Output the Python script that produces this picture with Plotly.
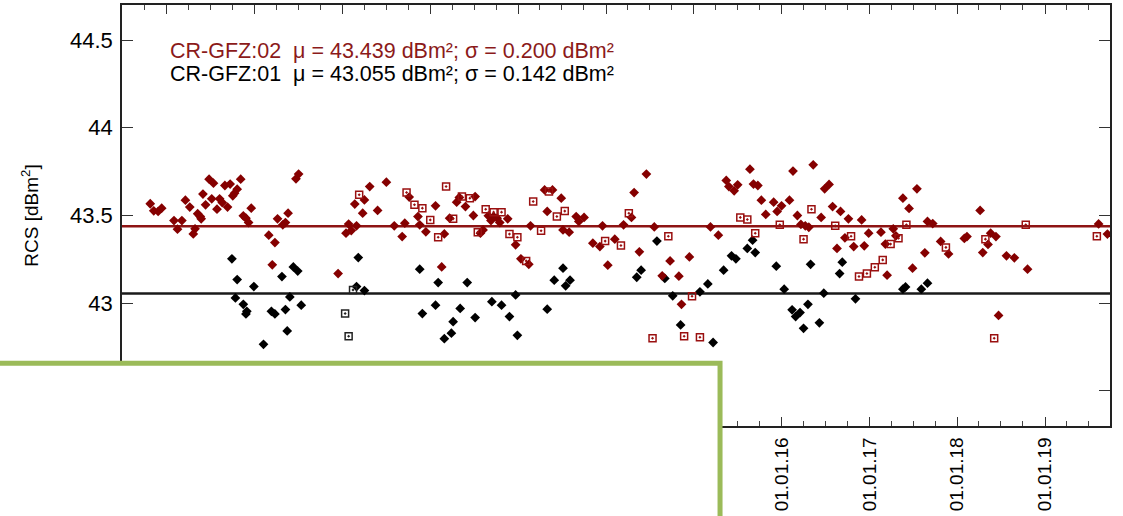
import pandas as pd
import plotly.graph_objects as go

# ---------------- data (decimal year, RCS in dBm^2) ----------------
gfz02_diamond_year = [
    2008.81, 2008.85, 2008.90, 2008.94, 2009.08, 2009.12, 2009.17, 2009.21, 2009.26, 2009.30,
    2009.32, 2009.35, 2009.38, 2009.39, 2009.41, 2009.44, 2009.48, 2009.51, 2009.53, 2009.57,
    2009.60, 2009.63, 2009.66, 2009.69, 2009.72, 2009.75, 2009.77, 2009.80, 2009.84, 2009.87,
    2009.90, 2009.93, 2009.96, 2010.16, 2010.20, 2010.23, 2010.26, 2010.32, 2010.35, 2010.38,
    2010.47, 2010.50, 2010.95, 2011.04, 2011.07, 2011.10, 2011.14, 2011.16, 2011.23, 2011.25,
    2011.31, 2011.40, 2011.50, 2011.59, 2011.68, 2011.71, 2011.76, 2011.86, 2011.88, 2011.95,
    2012.06, 2012.13, 2012.16, 2012.22, 2012.30, 2012.33, 2012.40, 2012.49, 2012.51, 2012.57,
    2012.60, 2012.66, 2012.69, 2012.72, 2012.76, 2012.79, 2012.88, 2012.97, 2013.03, 2013.12,
    2013.14, 2013.30, 2013.33, 2013.39, 2013.49, 2013.51, 2013.58, 2013.66, 2013.69, 2013.75,
    2013.85, 2013.93, 2013.96, 2014.02, 2014.10, 2014.20, 2014.29, 2014.32, 2014.38, 2014.46,
    2014.55, 2014.64, 2014.73, 2014.83, 2014.86, 2014.95, 2015.19, 2015.28, 2015.37, 2015.40,
    2015.46, 2015.50, 2015.64, 2015.68, 2015.73, 2015.77, 2015.82, 2015.91, 2015.95, 2016.00,
    2016.09, 2016.13, 2016.18, 2016.22, 2016.27, 2016.31, 2016.36, 2016.45, 2016.49, 2016.54,
    2016.58, 2016.63, 2016.67, 2016.72, 2016.76, 2016.82, 2016.91, 2016.94, 2016.99, 2017.13,
    2017.18, 2017.20, 2017.27, 2017.30, 2017.38, 2017.45, 2017.49, 2017.54, 2017.63, 2017.66,
    2017.72, 2017.81, 2017.90, 2018.08, 2018.11, 2018.26, 2018.29, 2018.35, 2018.38, 2018.44,
    2018.47, 2018.56, 2018.65, 2018.80, 2019.61, 2019.71,
]
gfz02_diamond_rcs = [
    43.567, 43.527, 43.523, 43.542, 43.471, 43.422, 43.471, 43.587, 43.548, 43.395,
    43.424, 43.510, 43.494, 43.481, 43.622, 43.561, 43.707, 43.595, 43.684, 43.536,
    43.595, 43.574, 43.671, 43.548, 43.679, 43.612, 43.627, 43.650, 43.707, 43.498,
    43.485, 43.460, 43.542, 43.388, 43.219, 43.346, 43.481, 43.447, 43.460, 43.513,
    43.709, 43.736, 43.169, 43.399, 43.451, 43.414, 43.565, 43.441, 43.513, 43.589,
    43.665, 43.529, 43.690, 43.441, 43.380, 43.456, 43.605, 43.494, 43.447, 43.407,
    43.555, 43.207, 43.395, 43.485, 43.576, 43.603, 43.551, 43.500, 43.608, 43.399,
    43.418, 43.498, 43.471, 43.494, 43.485, 43.460, 43.481, 43.333, 43.253, 43.222,
    43.441, 43.646, 43.523, 43.646, 43.599, 43.418, 43.405, 43.494, 43.466, 43.489,
    43.342, 43.323, 43.441, 43.217, 43.365, 43.447, 43.489, 43.631, 43.293, 43.736,
    43.435, 43.156, 43.241, 43.154, 42.994, 43.264, 43.435, 43.388, 43.700, 43.665,
    43.641, 43.675, 43.764, 43.679, 43.671, 43.587, 43.506, 43.576, 43.523, 43.555,
    43.587, 43.753, 43.500, 43.449, 43.441, 43.433, 43.789, 43.489, 43.652, 43.677,
    43.551, 43.312, 43.523, 43.373, 43.481, 43.323, 43.475, 43.327, 43.399, 43.405,
    43.337, 43.160, 43.424, 43.384, 43.599, 43.540, 43.200, 43.652, 43.287, 43.466,
    43.454, 43.352, 43.281, 43.369, 43.380, 43.529, 43.289, 43.335, 43.399, 43.380,
    42.930, 43.270, 43.259, 43.194, 43.452, 43.394,
]

gfz02_square_year = [
    2011.19, 2011.73, 2011.82, 2011.91, 2012.00, 2012.09, 2012.18, 2012.26, 2012.36, 2012.45,
    2012.54, 2012.63, 2012.72, 2012.81, 2012.90, 2012.99, 2013.09, 2013.17, 2013.26, 2013.35,
    2013.44, 2013.53, 2013.99, 2014.17, 2014.26, 2014.53, 2014.71, 2014.89, 2014.98, 2015.07,
    2015.53, 2015.61, 2015.70, 2015.98, 2016.25, 2016.34, 2016.61, 2016.79, 2016.88, 2016.97,
    2017.06, 2017.15, 2017.24, 2017.33, 2017.42, 2017.87, 2018.32, 2018.42, 2018.78, 2019.59,
]
gfz02_square_rcs = [
    43.618, 43.631, 43.561, 43.542, 43.475, 43.376, 43.665, 43.481, 43.608, 43.599,
    43.405, 43.536, 43.519, 43.519, 43.394, 43.376, 43.241, 43.580, 43.413, 43.637,
    43.494, 43.525, 43.354, 43.329, 43.513, 42.800, 43.382, 42.812, 43.040, 42.806,
    43.489, 43.477, 43.399, 43.447, 43.365, 43.536, 43.441, 43.382, 43.152, 43.169,
    43.205, 43.247, 43.337, 43.371, 43.447, 43.318, 43.365, 42.800, 43.447, 43.382,
]

gfz01_diamond_year = [
    2009.74, 2009.78, 2009.80, 2009.87, 2009.90, 2009.91, 2009.99, 2010.10, 2010.19, 2010.23,
    2010.31, 2010.35, 2010.37, 2010.40, 2010.44, 2010.49, 2010.53, 2011.16, 2011.18, 2011.25,
    2011.88, 2011.91, 2012.06, 2012.09, 2012.16, 2012.24, 2012.26, 2012.34, 2012.42, 2012.51,
    2012.70, 2012.81, 2012.90, 2012.97, 2012.99, 2013.33, 2013.41, 2013.51, 2013.54, 2013.59,
    2014.35, 2014.40, 2014.58, 2014.67, 2014.76, 2014.85, 2015.07, 2015.16, 2015.22, 2015.34,
    2015.43, 2015.48, 2015.61, 2015.67, 2015.70, 2015.94, 2016.03, 2016.12, 2016.16, 2016.21,
    2016.25, 2016.30, 2016.33, 2016.43, 2016.48, 2016.66, 2016.69, 2016.84, 2017.38, 2017.41,
    2017.59, 2017.66,
]
gfz01_diamond_rcs = [
    43.253, 43.030, 43.135, 42.994, 42.939, 42.954, 43.095, 42.766, 42.954, 42.939,
    43.152, 42.964, 42.842, 43.036, 43.207, 43.183, 42.989, 43.095, 43.260, 43.072,
    43.194, 42.941, 42.989, 43.118, 42.798, 42.829, 42.895, 42.970, 43.118, 42.918,
    43.009, 42.989, 42.924, 43.047, 42.817, 42.966, 43.131, 43.200, 43.099, 43.131,
    43.148, 43.188, 43.354, 43.141, 43.042, 42.876, 43.065, 43.110, 42.776, 43.188,
    43.270, 43.253, 43.312, 43.359, 43.289, 43.211, 43.080, 42.962, 42.924, 42.947,
    42.857, 42.994, 43.222, 42.888, 43.057, 43.169, 43.234, 43.025, 43.080, 43.093,
    43.080, 43.114,
]

gfz01_square_year = [2011.03, 2011.07, 2011.12]
gfz01_square_rcs = [42.941, 42.812, 43.076]

mu_02, sigma_02 = 43.439, 0.200
mu_01, sigma_01 = 43.055, 0.142

x_range = ["2008-06-28", "2019-09-28"]
y_range = [42.3, 44.7]

RED = "#850000"
BLACK = "#000000"


def to_date(y):
    yr = int(y)
    start = pd.Timestamp(yr, 1, 1)
    end = pd.Timestamp(yr + 1, 1, 1)
    return start + (end - start) * (y - yr)


def dates(lst):
    return [to_date(v) for v in lst]


fig = go.Figure()

fig.add_trace(go.Scatter(
    x=dates(gfz01_diamond_year), y=gfz01_diamond_rcs, mode="markers",
    marker=dict(symbol="diamond", size=7.5, color=BLACK, line=dict(width=0)),
    showlegend=False))
fig.add_trace(go.Scatter(
    x=dates(gfz01_square_year), y=gfz01_square_rcs, mode="markers",
    marker=dict(symbol="square-open-dot", size=7, color="#222222", line=dict(width=1.5)),
    showlegend=False))
fig.add_trace(go.Scatter(
    x=dates(gfz02_diamond_year), y=gfz02_diamond_rcs, mode="markers",
    marker=dict(symbol="diamond", size=7.5, color=RED, line=dict(width=0)),
    showlegend=False))
fig.add_trace(go.Scatter(
    x=dates(gfz02_square_year), y=gfz02_square_rcs, mode="markers",
    marker=dict(symbol="square-open-dot", size=7, color="#9a1010", line=dict(width=1.5)),
    showlegend=False))

# mean lines
fig.add_shape(type="line", xref="paper", x0=0, x1=1, yref="y", y0=mu_02, y1=mu_02,
              line=dict(color="#8e1414", width=2.5), layer="below")
fig.add_shape(type="line", xref="paper", x0=0, x1=1, yref="y", y0=mu_01, y1=mu_01,
              line=dict(color="#1a1a1a", width=2.5), layer="below")

# statistics text
fig.add_annotation(
    xref="paper", yref="paper", x=0.048, y=0.890, xanchor="left", yanchor="middle",
    showarrow=False, align="left", borderpad=0,
    text=f"CR-GFZ:02  \u03bc = {mu_02:.3f} dBm\u00b2; \u03c3 = {sigma_02:.3f} dBm\u00b2",
    font=dict(color="#8b1a1a", size=21.5))
fig.add_annotation(
    xref="paper", yref="paper", x=0.048, y=0.836, xanchor="left", yanchor="middle",
    showarrow=False, align="left", borderpad=0,
    text=f"CR-GFZ:01  \u03bc = {mu_01:.3f} dBm\u00b2; \u03c3 = {sigma_01:.3f} dBm\u00b2",
    font=dict(color="#000000", size=21.5))

# white box with green border covering lower-left part
fig.add_shape(type="rect", xref="paper", yref="paper",
              x0=-0.2, x1=0.6053, y0=-0.6, y1=0.149,
              fillcolor="white", line=dict(color="#9bbb59", width=5), layer="above")

fig.update_layout(
    width=1123, height=516, autosize=False,
    margin=dict(l=122, r=13, t=5, b=90, autoexpand=False),
    paper_bgcolor="white", plot_bgcolor="white",
    font=dict(family="Liberation Sans, Arial, sans-serif", color="black", size=19),
)
fig.update_xaxes(
    type="date", range=x_range, showgrid=False, zeroline=False, automargin=False,
    showline=True, linecolor="#222222", linewidth=1.5, mirror="allticks",
    ticks="inside", ticklen=9, tickwidth=1.2, tickcolor="#333333",
    tick0="2009-01-01", dtick="M12", tickformat="%d.%m.%y", tickangle=-90,
    tickfont=dict(size=19), ticklabelstandoff=2,
    minor=dict(ticks="inside", ticklen=5, tickwidth=1, tickcolor="#444444",
               dtick="M3", tick0="2009-01-01", showgrid=False),
)
fig.update_yaxes(
    range=y_range, showgrid=False, zeroline=False, automargin=False,
    showline=True, linecolor="#222222", linewidth=1.5, mirror="allticks",
    ticks="inside", ticklen=11, tickwidth=1.2, tickcolor="#333333",
    tick0=42.5, dtick=0.5, tickfont=dict(size=22), ticklabelstandoff=3,
    title=dict(text="RCS [dBm<sup>2</sup>]", font=dict(size=19), standoff=26),
)

fig.write_html(
    "out.html",
    config={"displayModeBar": False},
    post_script="document.body.style.margin='0';document.body.style.padding='0';",
)
